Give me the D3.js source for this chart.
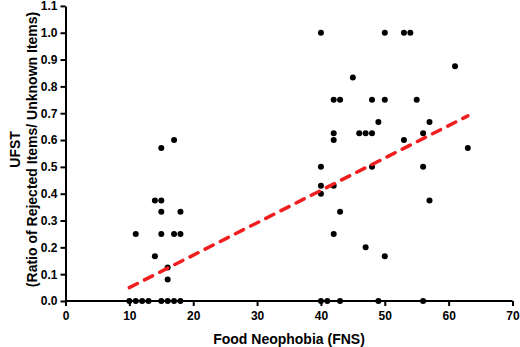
<!DOCTYPE html>
<html>
<head>
<meta charset="utf-8">
<script src="https://d3js.org/d3.v7.min.js"></script>
<style>
  body { margin: 0; background: #fff; }
  svg text { font-family: "Liberation Sans", Arial, sans-serif; font-weight: bold; }
</style>
</head>
<body>
<div id="chart"></div>
<script>
// FNS score of each participant
const fns = [
  10, 11, 12, 13, 15, 16, 17, 18,
  17, 15, 14, 15, 15, 18, 11, 15, 17, 18, 14, 16, 16,
  40, 41, 43, 49, 56,
  40, 50, 53, 54, 45, 42, 43, 48, 50, 49, 42, 42, 46, 47, 48, 53,
  40, 48, 40, 42, 40, 43, 42, 47, 50,
  61, 55, 57, 56, 63, 56, 57
];
// UFST ratio (rejected / unknown items)
const ufst = [
  0, 0, 0, 0, 0, 0, 0, 0,
  0.6, 0.57, 0.375, 0.375, 0.333, 0.333, 0.25, 0.25, 0.25, 0.25, 0.167, 0.125, 0.08,
  0, 0, 0, 0, 0,
  1.0, 1.0, 1.0, 1.0, 0.833, 0.75, 0.75, 0.75, 0.75, 0.667, 0.625, 0.6, 0.625, 0.625, 0.625, 0.6,
  0.5, 0.5, 0.43, 0.43, 0.4, 0.333, 0.25, 0.2, 0.167,
  0.875, 0.75, 0.667, 0.625, 0.57, 0.5, 0.375
];
// regression line end points
const fitX = [10, 63];
const fitY = [0.05, 0.69];

const xTicks = [0, 10, 20, 30, 40, 50, 60, 70];
const yTicks = [0, 0.1, 0.2, 0.3, 0.4, 0.5, 0.6, 0.7, 0.8, 0.9, 1.0, 1.1];

const width = 520, height = 347;

const svg = d3.select('#chart').append('svg')
  .attr('width', width)
  .attr('height', height);

const x = d3.scaleLinear().domain([0, 70]).range([65.5, 512.5]);
const y = d3.scaleLinear().domain([0, 1.1]).range([301, 5.9]);

// axes
const xAxis = svg.append('g')
  .attr('transform', `translate(0,${y(0)})`)
  .call(d3.axisBottom(x).tickValues(xTicks).tickSize(5).tickPadding(5).tickSizeOuter(0));
const yAxis = svg.append('g')
  .attr('transform', `translate(${x(0)},0)`)
  .call(d3.axisLeft(y).tickValues(yTicks).tickFormat(d3.format('.1f')).tickSize(5).tickPadding(3).tickSizeOuter(0));

[xAxis, yAxis].forEach(a => {
  a.select('.domain').attr('stroke', '#000').attr('stroke-width', 2);
  a.selectAll('.tick line').attr('stroke', '#000').attr('stroke-width', 2);
  a.selectAll('.tick text').attr('fill', '#000').style('font-size', '12px');
});
// the x axis line starts at the y axis
xAxis.select('.domain').attr('d', `M${x(0)},0H${x(70)}`);

// points
svg.append('g').selectAll('circle')
  .data(fns.map((d, i) => [d, ufst[i]]))
  .enter().append('circle')
  .attr('cx', d => x(d[0]))
  .attr('cy', d => y(d[1]))
  .attr('r', 3)
  .attr('fill', '#000');

// dashed fit line
svg.append('path')
  .datum(fitX.map((d, i) => [d, fitY[i]]))
  .attr('d', d3.line().x(d => x(d[0])).y(d => y(d[1])))
  .attr('fill', 'none')
  .attr('stroke', '#f01e1e')
  .attr('stroke-width', 3.5)
  .attr('stroke-linecap', 'round')
  .attr('stroke-dasharray', '9,8');

// axis titles
svg.append('text')
  .attr('x', (x(0) + x(70)) / 2)
  .attr('y', 344)
  .attr('text-anchor', 'middle')
  .style('font-size', '14px')
  .text('Food Neophobia (FNS)');

const yt = svg.append('text')
  .attr('transform', `translate(0,${(y(0) + y(1.1)) / 2 - 4}) rotate(-90)`)
  .attr('text-anchor', 'middle')
  .style('font-size', '14px');
yt.append('tspan').attr('x', 0).attr('y', 20).text('UFST');
yt.append('tspan').attr('x', 0).attr('y', 37).text('(Ratio of Rejected Items/ Unknown Items)');
</script>
</body>
</html>
